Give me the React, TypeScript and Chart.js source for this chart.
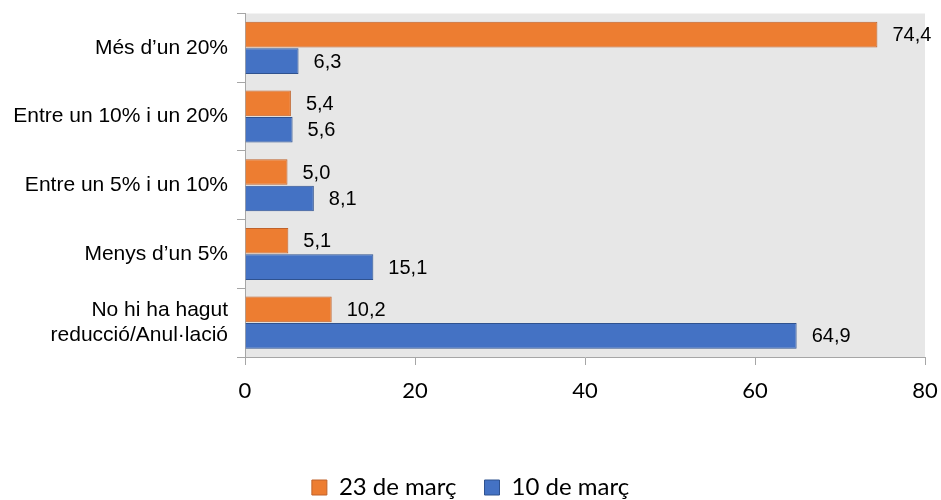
import React, { useEffect, useRef } from "react";
import { Chart, registerables } from "chart.js";

Chart.register(...registerables);

const categories: (string | string[])[] = [
  "Més d’un 20%",
  "Entre un 10% i un 20%",
  "Entre un 5% i un 10%",
  "Menys d’un 5%",
  ["No hi ha hagut", "reducció/Anul·lació"],
];
const march23 = [74.4, 5.4, 5.0, 5.1, 10.2];
const march10 = [6.3, 5.6, 8.1, 15.1, 64.9];
const seriesNames = ["23 de març", "10 de març"];
const xTicks = [0, 20, 40, 60, 80];

const bgPlugin = {
  id: "plotBg",
  beforeDraw(chart: any) {
    const { ctx, chartArea } = chart;
    ctx.save();
    ctx.fillStyle = "#e7e7e7";
    ctx.fillRect(chartArea.left, chartArea.top, chartArea.right - chartArea.left, chartArea.bottom - chartArea.top);
    ctx.restore();
  },
};

const labelPlugin = {
  id: "valLabels",
  afterDatasetsDraw(chart: any) {
    const { ctx } = chart;
    ctx.save();
    ctx.font = '20px "Liberation Sans", Arial, sans-serif';
    ctx.fillStyle = "#000";
    ctx.textBaseline = "middle";
    ctx.textAlign = "left";
    chart.data.datasets.forEach((ds: any, di: number) => {
      const meta = chart.getDatasetMeta(di);
      meta.data.forEach((el: any, i: number) => {
        const v = ds.data[i] as number;
        ctx.fillText(v.toFixed(1).replace(".", ","), el.x + 15, el.y + 1);
      });
    });
    ctx.restore();
  },
};

export default function App() {
  const ref = useRef<HTMLCanvasElement>(null);
  useEffect(() => {
    document.body.style.margin = "0";
    const chart = new Chart(ref.current!, {
      type: "bar",
      data: {
        labels: categories as any,
        datasets: [
          {
            label: seriesNames[0],
            data: march23,
            backgroundColor: "#ED7D31",
            borderColor: "#C0622A",
            borderWidth: 1,
            categoryPercentage: 0.77,
            barPercentage: 0.97,
          },
          {
            label: seriesNames[1],
            data: march10,
            backgroundColor: "#4472C4",
            borderColor: "#2F528F",
            borderWidth: 1,
            categoryPercentage: 0.77,
            barPercentage: 0.97,
          },
        ],
      },
      options: {
        indexAxis: "y",
        animation: false,
        responsive: false,
        maintainAspectRatio: false,
        layout: { padding: { top: 13.5, right: 0, left: 0, bottom: -9.5 } },
        scales: {
          x: {
            min: 0,
            max: 80,
            afterBuildTicks: (s: any) => {
              s.ticks = xTicks.map((v) => ({ value: v }));
            },
            afterFit: (s: any) => {
              s.height = 90.5;
              s.paddingLeft = 0;
              s.paddingRight = 16;
            },
            grid: { drawOnChartArea: false, drawTicks: true, tickLength: 8, color: "#a6a6a6" },
            border: { color: "#a6a6a6" },
            ticks: {
              color: "#000",
              padding: 13,
              font: { family: "Lato, 'Open Sans', sans-serif", size: 22 },
            },
          },
          y: {
            afterFit: (s: any) => {
              s.width = 245;
              s.paddingTop = 0;
              s.paddingBottom = 0;
            },
            grid: { drawOnChartArea: false, drawTicks: true, tickLength: 8, color: "#a6a6a6", offset: true },
            border: { color: "#a6a6a6" },
            ticks: {
              color: "#000",
              padding: 9,
              font: { family: "'Liberation Sans', Arial, sans-serif", size: 21, lineHeight: 1.2 },
            },
          },
        },
        plugins: {
          legend: {
            position: "bottom",
            labels: {
              color: "#000",
              boxWidth: 15,
              boxHeight: 15,
              padding: 28,
              font: { family: "Lato, 'Open Sans', sans-serif", size: 24 },
            },
          },
          tooltip: { enabled: false },
        },
      } as any,
      plugins: [bgPlugin, labelPlugin],
    });
    return () => chart.destroy();
  }, []);
  return <canvas ref={ref} width={941} height={500} style={{ display: "block" }} />;
}
